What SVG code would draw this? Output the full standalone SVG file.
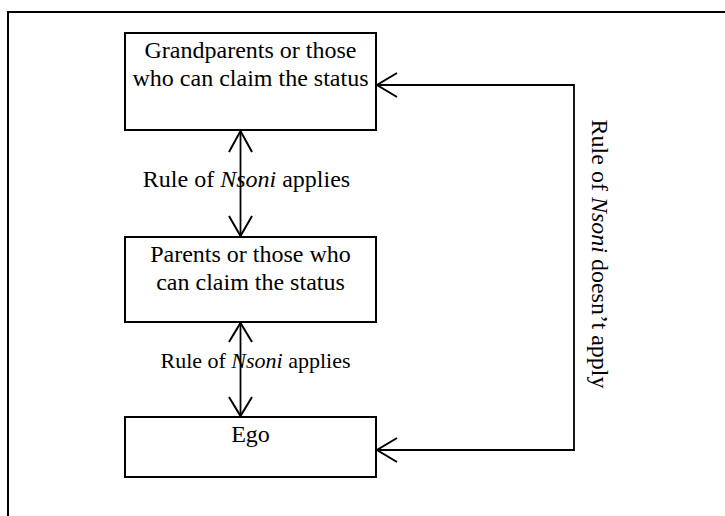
<svg xmlns="http://www.w3.org/2000/svg" width="725" height="516" viewBox="0 0 725 516">
  <defs>
    <style>
      .box { fill: #fff; stroke: #000; stroke-width: 2; }
      .line { fill: none; stroke: #000; stroke-width: 1.8; }
      .head { fill: none; stroke: #000; stroke-width: 2; stroke-linecap: butt; }
      text { font-family: "Liberation Serif", "Times New Roman", serif; fill: #000; }
      .node-text { font-size: 24px; text-anchor: middle; }
      .label { text-anchor: middle; }
    </style>
  </defs>
  <rect width="725" height="516" fill="#fff"/>

  <!-- outer frame (open to right and bottom) -->
  <path d="M8 516 V12 H725" fill="none" stroke="#000" stroke-width="2"/>

  <g id="grandparents">
    <rect class="box" x="125" y="33" width="251" height="97"/>
    <text class="node-text" x="250.5" y="58">Grandparents or those</text>
    <text class="node-text" x="250.5" y="86">who can claim the status</text>
  </g>

  <g id="parents">
    <rect class="box" x="125" y="237" width="251" height="85"/>
    <text class="node-text" x="250.5" y="262">Parents or those who</text>
    <text class="node-text" x="250.5" y="290">can claim the status</text>
  </g>

  <g id="ego">
    <rect class="box" x="125" y="417" width="251" height="60"/>
    <text class="node-text" x="250.5" y="442">Ego</text>
  </g>

  <g id="connectors">
    <!-- grandparents <-> parents -->
    <path class="line" d="M240.5 131 V236"/>
    <path class="head" d="M229 152 L240.5 131 L252 152"/>
    <path class="head" d="M229 216 L240.5 236 L252 216"/>
    <!-- parents <-> ego -->
    <path class="line" d="M240.5 323 V416"/>
    <path class="head" d="M229 342 L240.5 323 L252 342"/>
    <path class="head" d="M229 397 L240.5 416 L252 397"/>
    <!-- ego <-> grandparents bypass -->
    <path class="line" d="M377 85 H574 V450 H377"/>
    <path class="head" d="M397 73 L377 85 L397 97"/>
    <path class="head" d="M397 438 L377 450 L397 462"/>
  </g>

  <g id="labels">
    <text class="label" x="246.5" y="187" font-size="24">Rule of <tspan font-style="italic">Nsoni</tspan> applies</text>
    <text class="label" x="255.5" y="368" font-size="22">Rule of <tspan font-style="italic">Nsoni</tspan> applies</text>
    <text class="label" font-size="24" transform="translate(592 254) rotate(90)">Rule of <tspan font-style="italic">Nsoni</tspan> doesn’t apply</text>
  </g>
</svg>
